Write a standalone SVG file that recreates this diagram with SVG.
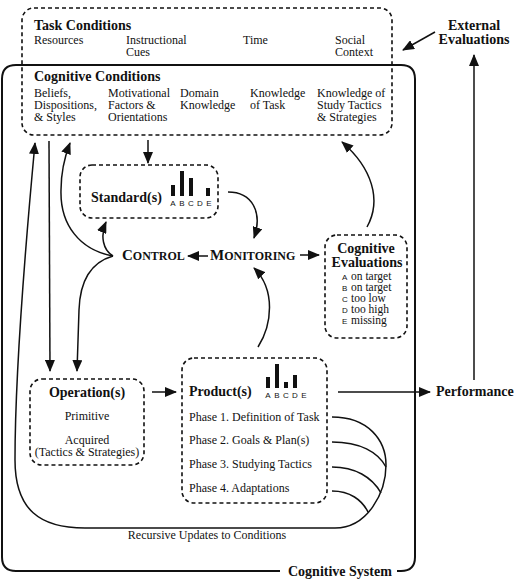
<svg xmlns="http://www.w3.org/2000/svg" width="518" height="585" viewBox="0 0 518 585">
<style>
text{font-family:"Liberation Serif","Times New Roman",serif;fill:#111}
.h{font-size:14px;font-weight:bold}
.t{font-size:12px}
.l{font-size:11.5px}
.s{font-family:"Liberation Sans",Arial,sans-serif;font-size:8px}
.d{fill:none;stroke:#111;stroke-width:1.6;stroke-dasharray:4 3}
.c{fill:none;stroke:#111;stroke-width:1.5}
.f{fill:none;stroke:#111;stroke-width:2}
.bar{fill:#111}
</style>
<defs>
<marker id="ah" markerUnits="userSpaceOnUse" markerWidth="12" markerHeight="10" viewBox="0 0 12 10" refX="11" refY="5" orient="auto">
<path d="M0,0 L12,5 L0,10 Z" fill="#111"/>
</marker>
</defs>

<g id="cognitive-system">
<path class="f" d="M280,571 L16,571 Q2,571 2,557 L2,79 Q2,65 16,65 L401,65 Q415,65 415,79 L415,557 Q415,571 401,571 L397,571"/>
<text class="h" x="288" y="576">Cognitive System</text>
</g>

<g id="task-conditions">
<rect class="d" x="22" y="8" width="370" height="127" rx="12"/>
<text class="h" x="34" y="30">Task Conditions</text>
<text class="t" x="34" y="44">Resources</text>
<text class="t" x="126" y="44">Instructional</text>
<text class="t" x="126" y="56">Cues</text>
<text class="t" x="243" y="44">Time</text>
<text class="t" x="335" y="44">Social</text>
<text class="t" x="335" y="56">Context</text>
</g>

<g id="cognitive-conditions">
<text class="h" x="34" y="81">Cognitive Conditions</text>
<text class="t" x="34" y="97">Beliefs,</text>
<text class="t" x="34" y="109">Dispositions,</text>
<text class="t" x="34" y="121">&amp; Styles</text>
<text class="t" x="108" y="97">Motivational</text>
<text class="t" x="108" y="109">Factors &amp;</text>
<text class="t" x="108" y="121">Orientations</text>
<text class="t" x="180" y="97">Domain</text>
<text class="t" x="180" y="109">Knowledge</text>
<text class="t" x="250" y="97">Knowledge</text>
<text class="t" x="250" y="109">of Task</text>
<text class="t" x="317" y="97">Knowledge of</text>
<text class="t" x="317" y="109">Study Tactics</text>
<text class="t" x="317" y="121">&amp; Strategies</text>
</g>

<g id="external-evaluations">
<text class="h" x="474" y="30" text-anchor="middle">External</text>
<text class="h" x="474" y="44" text-anchor="middle">Evaluations</text>
</g>

<g id="standards">
<rect class="d" x="80" y="165" width="138" height="53" rx="12"/>
<text class="h" x="91" y="202">Standard(s)</text>
<rect class="bar" x="171" y="185" width="4" height="11"/>
<rect class="bar" x="180" y="171" width="4" height="25"/>
<rect class="bar" x="189" y="178" width="4" height="18"/>
<rect class="bar" x="206" y="188" width="4" height="8"/>
<text class="s" x="173" y="206" text-anchor="middle">A</text>
<text class="s" x="182" y="206" text-anchor="middle">B</text>
<text class="s" x="191" y="206" text-anchor="middle">C</text>
<text class="s" x="200" y="206" text-anchor="middle">D</text>
<text class="s" x="209" y="206" text-anchor="middle">E</text>
</g>

<g id="control">
<text x="122" y="260" font-weight="bold"><tspan font-size="15">C</tspan><tspan font-size="12">ONTROL</tspan></text>
</g>

<g id="monitoring">
<text x="210" y="260" font-weight="bold"><tspan font-size="15">M</tspan><tspan font-size="12">ONITORING</tspan></text>
</g>

<g id="cognitive-evaluations">
<rect class="d" x="325" y="235" width="82" height="103" rx="12"/>
<text class="h" x="366" y="253" text-anchor="middle">Cognitive</text>
<text class="h" x="367" y="267" text-anchor="middle">Evaluations</text>
<text class="s" x="342" y="280">A</text><text class="l" x="351" y="280">on target</text>
<text class="s" x="342" y="291">B</text><text class="l" x="351" y="291">on target</text>
<text class="s" x="342" y="302">C</text><text class="l" x="351" y="302">too low</text>
<text class="s" x="342" y="313">D</text><text class="l" x="351" y="313">too high</text>
<text class="s" x="342" y="324">E</text><text class="l" x="351" y="324">missing</text>
</g>

<g id="operations">
<rect class="d" x="30" y="379" width="114" height="86" rx="12"/>
<text class="h" x="87" y="397" text-anchor="middle">Operation(s)</text>
<text class="t" x="87" y="420" text-anchor="middle">Primitive</text>
<text class="t" x="87" y="444" text-anchor="middle">Acquired</text>
<text class="t" x="87" y="456" text-anchor="middle">(Tactics &amp; Strategies)</text>
</g>

<g id="products">
<rect class="d" x="182" y="358" width="145" height="145" rx="12"/>
<text class="h" x="189" y="396">Product(s)</text>
<rect class="bar" x="266" y="377" width="4" height="11"/>
<rect class="bar" x="275" y="364" width="4" height="24"/>
<rect class="bar" x="284" y="382" width="4" height="6"/>
<rect class="bar" x="293" y="375" width="4" height="13"/>
<text class="s" x="268" y="398" text-anchor="middle">A</text>
<text class="s" x="277" y="398" text-anchor="middle">B</text>
<text class="s" x="286" y="398" text-anchor="middle">C</text>
<text class="s" x="295" y="398" text-anchor="middle">D</text>
<text class="s" x="304" y="398" text-anchor="middle">E</text>
<text class="t" x="189" y="421">Phase 1. Definition of Task</text>
<text class="t" x="189" y="444">Phase 2. Goals &amp; Plan(s)</text>
<text class="t" x="189" y="468">Phase 3. Studying Tactics</text>
<text class="t" x="189" y="492">Phase 4. Adaptations</text>
</g>

<g id="performance">
<text class="h" x="436" y="396">Performance</text>
</g>

<g id="recursive-label">
<text class="t" x="207" y="539" text-anchor="middle">Recursive Updates to Conditions</text>
</g>

<g id="connectors">
<path class="c" d="M435,32 L403,50" marker-end="url(#ah)"/>
<path class="c" d="M474,380 L474,55" marker-end="url(#ah)"/>
<path class="c" d="M338,392 L430,392" marker-end="url(#ah)"/>
<path class="c" d="M148,140 L148,163" marker-end="url(#ah)"/>
<path class="c" d="M208,256 L188,256" marker-end="url(#ah)"/>
<path class="c" d="M300,255 L319,255" marker-end="url(#ah)"/>
<path class="c" d="M152,392 L176,392" marker-end="url(#ah)"/>
<path class="c" d="M228,192 C252,192 263,212 254,238" marker-end="url(#ah)"/>
<path class="c" d="M258,347 C272,325 276,290 254,268" marker-end="url(#ah)"/>
<path class="c" d="M367,227 C382,200 372,168 342,142" marker-end="url(#ah)"/>
<path class="c" d="M113,256 C103,250 100,236 106,222" marker-end="url(#ah)"/>
<path class="c" d="M113,256 C80,250 60,225 61,190 C61,170 65,156 70,143" marker-end="url(#ah)"/>
<path class="c" d="M113,256 C92,262 80,280 79,310 L77,371" marker-end="url(#ah)"/>
<path class="c" d="M49,141 L50,371" marker-end="url(#ah)"/>
<path class="c" d="M332,417 C368,417 386,440 386,465 C386,492 368,528 335,528 L85,528 C40,528 15,510 15,460 C15,380 25,250 35,143" marker-end="url(#ah)"/>
<path class="c" d="M332,442 C360,442 378,452 386,467"/>
<path class="c" d="M332,467 C355,467 372,477 381,493"/>
<path class="c" d="M332,491 C350,491 362,500 368,512"/>
</g>
</svg>
